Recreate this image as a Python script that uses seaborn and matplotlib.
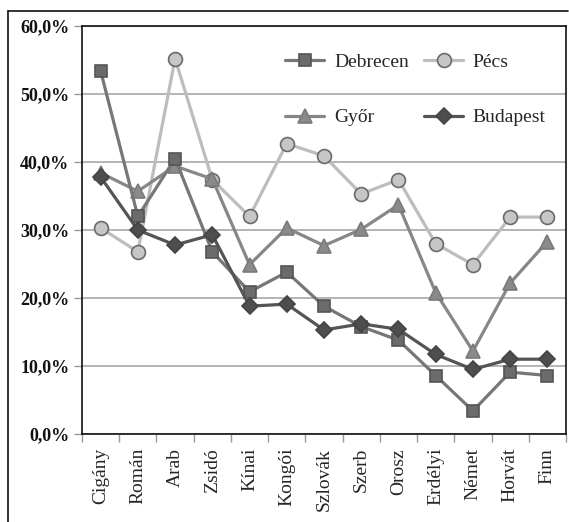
import numpy as np
import pandas as pd
import matplotlib
matplotlib.use("Agg")
import matplotlib.pyplot as plt
import seaborn as sns
from matplotlib.lines import Line2D
from matplotlib.ticker import FixedLocator, FuncFormatter

# adatok (százalék)
kategoriak = ["Cigány", "Román", "Arab", "Zsidó", "Kínai", "Kongói", "Szlovák",
              "Szerb", "Orosz", "Erdélyi", "Német", "Horvát", "Finn"]
debrecen = [53.4, 32.0, 40.5, 26.8, 20.9, 23.8, 18.8, 15.8, 13.8, 8.6, 3.4, 9.1, 8.6]
pecs = [30.3, 26.8, 55.2, 37.4, 32.0, 42.7, 40.9, 35.3, 37.4, 28.0, 24.9, 31.9, 31.9]
gyor = [38.4, 35.7, 39.4, 37.5, 24.9, 30.3, 27.7, 30.1, 33.7, 20.8, 12.2, 22.2, 28.3]
budapest = [37.8, 30.0, 27.8, 29.3, 18.8, 19.1, 15.3, 16.2, 15.4, 11.7, 9.5, 11.0, 11.0]

sns.set_theme(style="white")
plt.rcParams['font.family'] = ['Liberation Serif', 'DejaVu Serif']

fig = plt.figure(figsize=(5.69, 5.22), dpi=100)
ax = fig.add_axes([82/569, 1-434/522, 484/569, 408/522])

sorozatok = [
    ("Debrecen", debrecen, "s", 8, "#777777", "#6b6b6b", "#555555"),
    ("Győr", gyor, "^", 10, "#878787", "#8a8a8a", "#7a7a7a"),
    ("Pécs", pecs, "o", 10, "#bdbdbd", "#c6c6c6", "#6a6a6a"),
    ("Budapest", budapest, "D", 8, "#555555", "#4e4e4e", "#444444"),
]
rajz_sorrend = ["Pécs", "Győr", "Debrecen", "Budapest"]
adat = {s[0]: s for s in sorozatok}
for nev in rajz_sorrend:
    _, ertekek, jel, meret, vonal, kitoltes, szegely = adat[nev]
    sns.lineplot(x=np.arange(len(kategoriak)), y=ertekek, ax=ax, color=vonal,
                 linewidth=2.3, marker=jel, markersize=meret,
                 markerfacecolor=kitoltes, markeredgecolor=szegely,
                 markeredgewidth=1.2, label=nev)

ax.set_xlim(-0.5, len(kategoriak) - 0.5)
ax.set_ylim(0, 60)
ax.set_yticks(np.arange(0, 61, 10))
ax.yaxis.set_major_formatter(FuncFormatter(lambda v, p: f"{v:.1f}%".replace(".", ",")))
ax.set_xticks(np.arange(len(kategoriak)))
ax.set_xticklabels(kategoriak, rotation=90, fontsize=14)
ax.xaxis.set_minor_locator(FixedLocator(np.arange(-0.5, len(kategoriak), 1)))
ax.tick_params(axis='x', which='major', length=0, pad=10)
ax.tick_params(axis='x', which='minor', length=6, color="#999999", width=1, bottom=True)
ax.tick_params(axis='y', length=6, color="#999999", width=1, left=True, labelsize=13, pad=3)
for t in ax.get_yticklabels():
    t.set_color("#111111")
    t.set_fontweight("bold")
ax.grid(axis='y', color="#a8a8a8", linewidth=1.2)
ax.set_axisbelow(True)
for sp in ax.spines.values():
    sp.set_color("#111111")
    sp.set_linewidth(1.2)
ax.set_xlabel("")
ax.set_ylabel("")

# jelmagyarázat: Debrecen, Pécs / Győr, Budapest
kezelok, cimkek = ax.get_legend_handles_labels()
sorrend = ["Debrecen", "Győr", "Pécs", "Budapest"]
kezelok = [kezelok[cimkek.index(n)] for n in sorrend]
ax.legend(kezelok, sorrend, ncol=2, loc="upper left", bbox_to_anchor=(0.42, 0.933),
          frameon=False, fontsize=14, handlelength=2.0, handletextpad=0.5,
          columnspacing=0.8, labelspacing=1.95, borderpad=0, borderaxespad=0)

# külső keret
fig.add_artist(Line2D([8/569, 8/569], [0, 1-11/522], color="#111111", linewidth=1.2))
fig.add_artist(Line2D([8/569, 568/569], [1-11/522, 1-11/522], color="#111111", linewidth=1.2))

fig.savefig("out.png", dpi=100)
